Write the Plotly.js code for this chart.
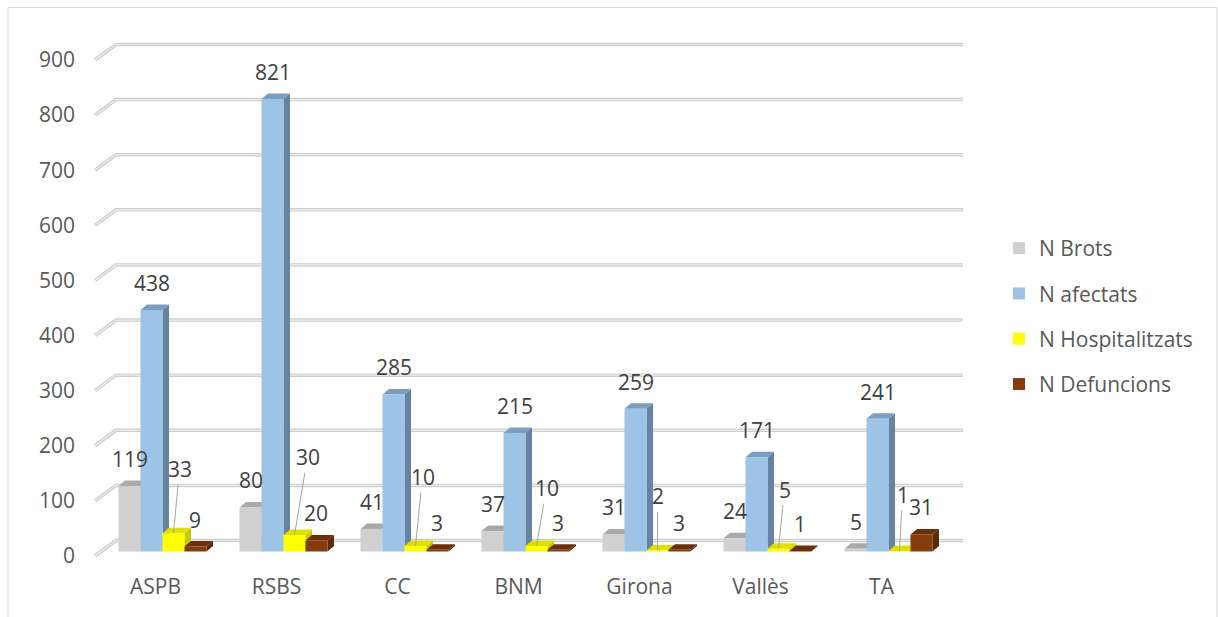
<!DOCTYPE html>
<html>
<head>
<meta charset="utf-8">
<script src="https://cdn.plot.ly/plotly-3.0.1.min.js"></script>
<style>
  html, body { margin: 0; padding: 0; background: #ffffff; }
  #chart { width: 1218px; height: 617px; }
</style>
</head>
<body>
<div id="chart"></div>
<script>
// ---- data ----
const categories = ['ASPB', 'RSBS', 'CC', 'BNM', 'Girona', 'Vallès', 'TA'];
const brots = [119, 80, 41, 37, 31, 24, 5];
const afectats = [438, 821, 285, 215, 259, 171, 241];
const hospitalitzats = [33, 30, 10, 10, 2, 5, 1];
const defuncions = [9, 20, 3, 3, 3, 1, 31];
const seriesNames = ['N Brots', 'N afectats', 'N Hospitalitzats', 'N Defuncions'];
const yTickValues = [0, 100, 200, 300, 400, 500, 600, 700, 800, 900];

// ---- styling ----
const FONT = '"Open Sans", "Noto Sans", sans-serif';
const FONT_SIZE = 21;
const TICK_COLOR = '#595959';
const LABEL_COLOR = '#404040';
const faceColors = [
  { front: '#d0d0d0', side: '#b4b4b4', top: '#a9a9a9' },
  { front: '#9dc3e6', side: '#6683a3', top: '#7d9dbf' },
  { front: '#ffff00', side: '#c9c900', top: '#e0e000' },
  { front: '#843c0c', side: '#5a2906', top: '#6b300a' }
];
// pixel offsets of the Hospitalitzats labels from their bar tops
const hospLabelDx = [6, 13, 7, 10, 0, 6, 3];
const hospLabelDy = [-64, -78, -69, -58, -54, -59, -56];

// ---- geometry (pixels) ----
const W = 1218, H = 617;
const PL = 80, PR = 1000, PT = 25, PB = 572;
const ZERO_PX = 551.5;              // pixel row of value 0 (front face base)
const PX_PER_UNIT = 496 / 900;      // vertical scale
const X0_PX = 162.5;                // pixel column of first category centre
const PX_PER_CAT = 121;             // category spacing
const DEPTH_DX = 6.5, DEPTH_DY = 5.5;       // bar depth
const WALL_DX = 21, WALL_DY = 15.5;         // back-wall offset of gridlines
const FRONT_DROP = 4.5;                     // front edge of floor below bar base
const GRID_FRONT_PX = 95, GRID_RIGHT_PX = 963;
const LABEL_SHIFT_PX = -7;

const xRange = [(PL - X0_PX) / PX_PER_CAT, (PR - X0_PX) / PX_PER_CAT];
const yRange = [-(PB - ZERO_PX) / PX_PER_UNIT, (ZERO_PX - PT) / PX_PER_UNIT];
const pxToX = px => (px - X0_PX) / PX_PER_CAT;
const dxToX = d => d / PX_PER_CAT;
const dyToY = d => d / PX_PER_UNIT;

const BAR_GAP = 0.273;
const GROUP_W = 1 - BAR_GAP;
const BAR_W = GROUP_W / 4;
const barOffset = k => -GROUP_W / 2 + k * BAR_W;

const allSeries = [brots, afectats, hospitalitzats, defuncions];
const xIdx = categories.map((_, i) => i);

// ---- bar traces (front faces) ----
const traces = allSeries.map((vals, k) => ({
  type: 'bar',
  name: seriesNames[k],
  x: xIdx,
  y: vals,
  width: BAR_W,
  offset: barOffset(k),
  marker: { color: faceColors[k].front, line: { width: 0 } },
  legendgroup: 'g' + k,
  hoverinfo: 'skip'
}));

// ---- shapes: back-wall gridlines, then side/top faces of the bars ----
const shapes = [];
const ddx = dxToX(DEPTH_DX), ddy = dyToY(DEPTH_DY);
const drop = dyToY(FRONT_DROP);
yTickValues.forEach(v => {
  const yf = v - drop;
  const yb = v - drop + dyToY(WALL_DY);
  const p = `M${pxToX(GRID_FRONT_PX)},${yf} L${pxToX(GRID_FRONT_PX + WALL_DX)},${yb} L${pxToX(GRID_RIGHT_PX)},${yb}`;
  shapes.push({ type: 'path', xref: 'x', yref: 'y', path: p, layer: 'below',
    line: { color: '#cdcdcd', width: 3.5 } });
  shapes.push({ type: 'path', xref: 'x', yref: 'y', path: p, layer: 'below',
    line: { color: '#ededed', width: 1.2 } });
});
allSeries.forEach((vals, k) => {
  vals.forEach((v, i) => {
    const left = i + barOffset(k);
    const right = left + BAR_W;
    shapes.push({ type: 'path', xref: 'x', yref: 'y', layer: 'below',
      path: `M${right},0 L${right + ddx},${ddy} L${right + ddx},${v + ddy} L${right},${v} Z`,
      fillcolor: faceColors[k].side, line: { width: 0 } });
    shapes.push({ type: 'path', xref: 'x', yref: 'y', layer: 'below',
      path: `M${left},${v} L${right},${v} L${right + ddx},${v + ddy} L${left + ddx},${v + ddy} Z`,
      fillcolor: faceColors[k].top, line: { width: 0 } });
  });
});
// chart frame
shapes.push({ type: 'rect', xref: 'paper', yref: 'paper', layer: 'above',
  x0: (8 - PL) / (PR - PL), x1: (1217 - PL) / (PR - PL),
  y0: (PB - 640) / (PB - PT), y1: (PB - 7.5) / (PB - PT),
  line: { color: '#d9d9d9', width: 1 }, fillcolor: 'rgba(0,0,0,0)' });

// ---- value labels ----
const annotations = [];
allSeries.forEach((vals, k) => {
  vals.forEach((v, i) => {
    const xc = i + barOffset(k) + BAR_W / 2;
    if (k === 2) {
      annotations.push({ x: xc, y: v, xref: 'x', yref: 'y', text: String(v),
        showarrow: true, arrowhead: 0, arrowwidth: 1, arrowcolor: '#a6a6a6',
        ax: hospLabelDx[i], ay: hospLabelDy[i], standoff: 0, startstandoff: 0,
        font: { family: FONT, size: FONT_SIZE, color: LABEL_COLOR } });
    } else {
      annotations.push({ x: xc, y: v, xref: 'x', yref: 'y', text: String(v),
        showarrow: false, yshift: 27,
        font: { family: FONT, size: FONT_SIZE, color: LABEL_COLOR } });
    }
  });
});

const layout = {
  width: W, height: H,
  margin: { l: PL, r: W - PR, t: PT, b: H - PB, pad: 0 },
  paper_bgcolor: '#ffffff', plot_bgcolor: 'rgba(0,0,0,0)',
  font: { family: FONT, size: FONT_SIZE, color: TICK_COLOR },
  barmode: 'overlay',
  showlegend: true,
  legend: {
    x: (999 - PL) / (PR - PL), xanchor: 'left',
    y: (PB - 228) / (PB - PT), yanchor: 'top',
    font: { family: FONT, size: FONT_SIZE, color: TICK_COLOR },
    tracegroupgap: 15, bgcolor: 'rgba(0,0,0,0)', borderwidth: 0
  },
  xaxis: {
    range: xRange, showgrid: false, zeroline: false, showline: false,
    ticks: '', tickmode: 'array',
    tickvals: xIdx.map(i => i + dxToX(LABEL_SHIFT_PX)), ticktext: categories,
    tickfont: { family: FONT, size: FONT_SIZE, color: TICK_COLOR }, fixedrange: true
  },
  yaxis: {
    range: yRange, showgrid: false, zeroline: false, showline: false,
    ticks: '', tickmode: 'array', ticklabelstandoff: 4,
    tickvals: yTickValues.map(v => v - drop), ticktext: yTickValues.map(String),
    tickfont: { family: FONT, size: FONT_SIZE, color: TICK_COLOR }, fixedrange: true
  },
  shapes: shapes,
  annotations: annotations
};

Plotly.newPlot('chart', traces, layout, { displayModeBar: false, staticPlot: true });
</script>
</body>
</html>
